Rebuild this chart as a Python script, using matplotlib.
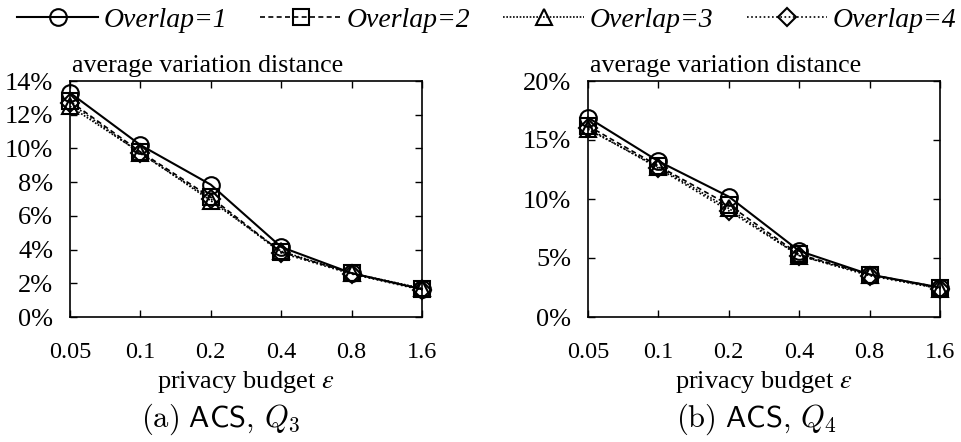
import matplotlib
matplotlib.use("Agg")
import matplotlib.pyplot as plt
from matplotlib.ticker import FuncFormatter

plt.rcParams['font.family'] = ['Liberation Serif', 'DejaVu Serif']
plt.rcParams['font.size'] = 18

eps_labels = ['0.05', '0.1', '0.2', '0.4', '0.8', '1.6']
series_names = ['Overlap=1', 'Overlap=2', 'Overlap=3', 'Overlap=4']

# average variation distance (%) for ACS, Q3
q3_overlap1 = [13.3, 10.2, 7.85, 4.15, 2.6, 1.65]
q3_overlap2 = [12.8, 9.8, 7.1, 3.85, 2.6, 1.65]
q3_overlap3 = [12.5, 9.75, 6.9, 3.9, 2.6, 1.7]
q3_overlap4 = [12.7, 9.7, 7.0, 3.8, 2.55, 1.6]

# average variation distance (%) for ACS, Q4
q4_overlap1 = [16.9, 13.2, 10.2, 5.6, 3.6, 2.5]
q4_overlap2 = [16.2, 12.8, 9.5, 5.3, 3.6, 2.5]
q4_overlap3 = [15.9, 12.7, 9.2, 5.2, 3.6, 2.4]
q4_overlap4 = [16.0, 12.6, 9.0, 5.2, 3.5, 2.4]

markers = ['o', 's', '^', 'D']
msizes = [12, 11, 12, 9]
styles = ['-', (0, (3, 2)), (0, (1, 1)), (0, (1, 1.5))]
widths = [1.5, 1.2, 1.2, 1.2]

W, H = 961, 442
fig = plt.figure(figsize=(W / 100, H / 100), dpi=100)


def panel(left, series, ymax, ystep, caption, cap_x):
    ax = fig.add_axes([left / W, (H - 317) / H, 352 / W, 236 / H])
    x = range(len(eps_labels))
    lines = []
    for vals, m, ms, ls, lw, name in zip(series, markers, msizes, styles, widths, series_names):
        ln, = ax.plot(x, vals, color='black', linestyle=ls, linewidth=lw,
                      marker=m, markersize=ms, markerfacecolor='none',
                      markeredgecolor='black', markeredgewidth=1.5,
                      clip_on=False, label=name)
        lines.append(ln)
    ax.set_xlim(0, len(eps_labels) - 1)
    ax.set_ylim(0, ymax)
    ax.set_xticks(list(x))
    ax.set_xticklabels(eps_labels, fontsize=17.5)
    ax.set_yticks(range(0, ymax + 1, ystep))
    ax.yaxis.set_major_formatter(FuncFormatter(lambda v, p: '%d%%' % v))
    ax.tick_params(direction='in', top=True, right=True, length=5, width=1)
    ax.tick_params(axis='y', pad=12, labelsize=19)
    ax.tick_params(axis='x', pad=18)
    for s in ax.spines.values():
        s.set_linewidth(1.2)
    ax.text(0.005, 1.015, 'average variation distance', transform=ax.transAxes,
            ha='left', va='bottom', fontsize=18.7)
    ax.set_xlabel('privacy budget $\\varepsilon$', labelpad=4, fontsize=19,
                  math_fontfamily='stix')
    fig.text(cap_x / W, 0.012, caption, ha='center', va='bottom', fontsize=22,
             math_fontfamily='cm')
    return lines


handles = panel(70, [q3_overlap1, q3_overlap2, q3_overlap3, q3_overlap4], 14, 2,
                r'$\mathrm{(a)}\ \mathsf{ACS},\,Q_3$', 220)
panel(588, [q4_overlap1, q4_overlap2, q4_overlap3, q4_overlap4], 20, 5,
      r'$\mathrm{(b)}\ \mathsf{ACS},\,Q_4$', 756)

leg = fig.legend(handles=handles, loc='upper left', bbox_to_anchor=(-0.008, 1.04),
                 ncol=4, frameon=False, handlelength=2.9, handletextpad=0.2,
                 columnspacing=1.2, prop={'family': 'Liberation Serif',
                                          'style': 'italic', 'size': 20})

fig.savefig('out.png', dpi=100)
